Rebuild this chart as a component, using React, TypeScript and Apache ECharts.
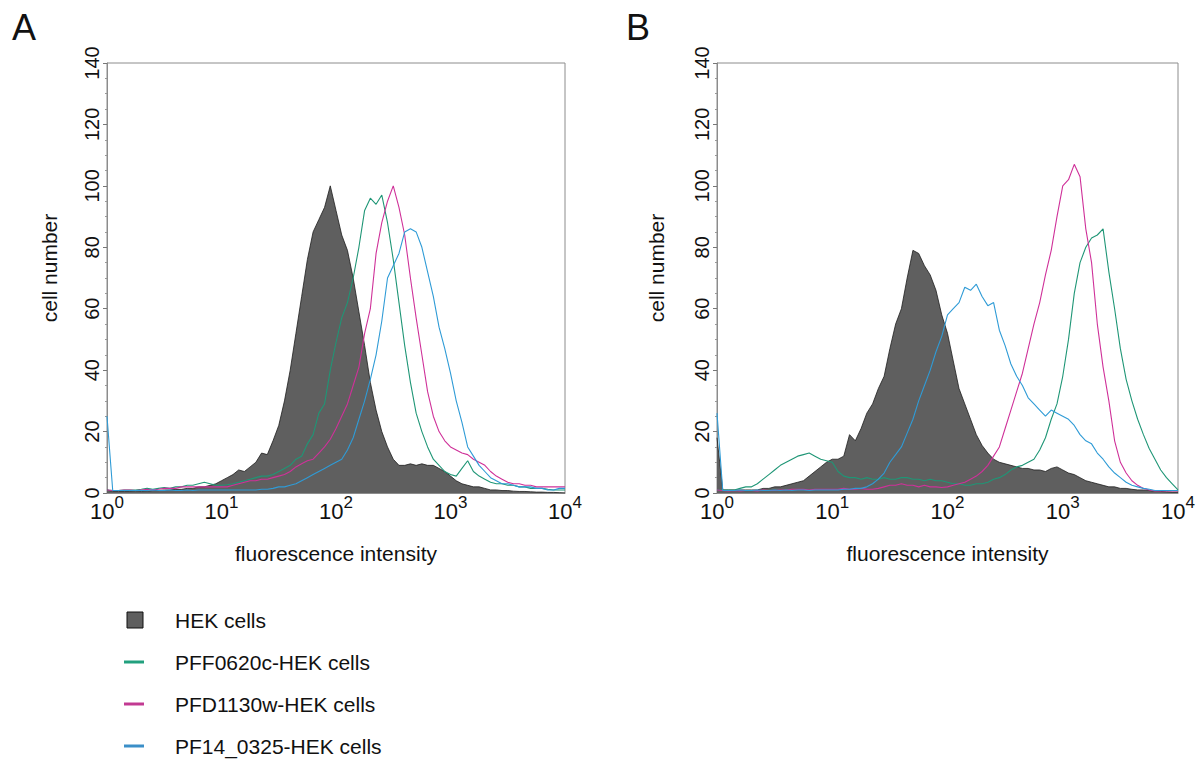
import React, { useEffect, useRef } from "react";
import * as echarts from "echarts";

const FONT = '"Liberation Sans", Arial, Helvetica, sans-serif';

// channel positions on the log10 fluorescence scale (0 .. 4 decades, 81 channels)
const CHANNELS = Array.from({ length: 81 }, (_, i) => i * 0.05);

const X_TICKS = [1, 10, 100, 1000, 10000];
const Y_TICKS = [0, 20, 40, 60, 80, 100, 120, 140];

const SERIES_NAMES = ["HEK cells", "PFF0620c-HEK cells", "PFD1130w-HEK cells", "PF14_0325-HEK cells"];
const COLORS = ["#5f5f5f", "#1f9676", "#cf3199", "#2f9bd6"];
const LEGEND_COLORS = ["#5f5f5f", "#22a07e", "#c23a92", "#3b8fc8"];

// Panel A
const hekA = [
  1, 0.5, 0.5, 0.5, 0.5, 0.6, 0.5, 0.6, 0.8, 0.8,
  1, 1, 1.2, 1.2, 1.5, 1.5, 2, 2, 2.5, 3,
  4, 5, 6, 7.5, 7, 8.5, 10, 13, 12.5, 17,
  22, 30, 40, 52, 64, 76, 85, 89, 93, 100,
  92, 84, 79, 70, 59, 48, 36, 27, 20, 15,
  11, 9, 9, 9.5, 9, 9.5, 9, 9, 8, 7,
  5.5, 4, 3, 2.5, 2, 2, 1.5, 1, 1, 0.8,
  0.8, 0.6, 0.5, 0.5, 0.4, 0.3, 0.3, 0.2, 0.2, 0.1,
  0,
];
const pffA = [
  1, 0.8, 0.8, 1, 1, 1, 1.2, 1.5, 1.2, 1.5,
  1.8, 1.5, 2, 2, 2.5, 2.5, 3, 3.5, 3, 2.5,
  2.5, 2.7, 3, 3.5, 4, 4.5, 5, 5.5, 5.5, 6,
  7, 8, 9, 11, 12, 16, 19, 26, 29, 40,
  49, 57, 62, 70, 80, 92, 96, 94, 97, 88,
  76, 62, 48, 36, 26, 20, 15, 11, 9, 7,
  6, 5.5, 8, 10.5, 7, 5.5, 4.5, 3.5, 3, 3,
  2.5, 2.5, 2, 2, 1.5, 1.5, 1.5, 1.2, 1, 1,
  1,
];
const pfdA = [
  1, 0.8, 0.8, 1, 1, 0.8, 1, 1.2, 1, 1.2,
  1.5, 1.5, 1.5, 2, 2, 2, 2, 2, 2, 2,
  2, 2, 2.5, 3, 3.5, 4, 4, 4.5, 4.5, 5,
  5.5, 6, 7, 8.5, 9.5, 10.5, 11, 13, 15, 17.5,
  21, 25, 29, 35, 41, 52, 60, 78, 88, 95,
  100, 93, 84, 70, 57, 45, 33, 25, 20, 17,
  15, 14, 13, 12.5, 11, 10, 9, 7, 5.5, 4.5,
  3.5, 3, 3, 2.5, 2.5, 2, 2, 2, 2, 2,
  2,
];
const pf14A = [
  25, 0.8, 0.8, 0.8, 0.8, 0.8, 0.8, 0.8, 1, 0.8,
  0.8, 1, 0.8, 0.8, 1, 0.8, 1, 1, 1, 1,
  1, 1, 1, 1, 1, 1, 1, 1.2, 1.2, 1.5,
  2, 2, 2.5, 3, 4, 5, 6, 7, 8, 9,
  10, 11, 14, 18, 24, 30, 37, 45, 56, 70,
  74, 78, 85, 86, 85, 80, 72, 64, 54, 47,
  39, 30, 23, 15, 12, 9, 7, 5, 4, 3,
  3, 2.5, 2, 2, 2, 1.5, 1.5, 1, 1, 1.5,
  1.5,
];

// Panel B
const hekB = [
  18, 1, 1, 1, 1, 1, 1, 1, 1.5, 1.5,
  2, 2, 2.5, 3, 3.5, 4, 5.5, 7, 8.5, 10,
  11, 11, 12, 19, 17, 21, 26, 29, 34, 38,
  47, 55, 60, 70, 79, 78, 74, 71, 66, 58,
  52, 43, 34, 29, 24, 19, 15.5, 13, 11, 10,
  9.5, 9, 8.5, 8, 8, 7.5, 7.5, 7, 8, 8.5,
  7.5, 6.5, 6, 5, 4, 3.5, 3, 2.5, 2, 2,
  1.5, 1.5, 1.2, 1, 1, 0.8, 0.6, 0.5, 0.4, 0.3,
  0.3,
];
const pffB = [
  1, 1, 1, 1, 1.5, 2, 2, 3, 4.5, 6,
  7.5, 9, 10, 11, 12, 12.5, 13, 12, 11, 10.5,
  10, 7, 5.5, 5, 5, 4.5, 5, 4.5, 4.5, 5,
  4.5, 4.5, 5, 5, 4.5, 4.5, 4, 4.5, 4, 4,
  3.5, 3, 3, 2.5, 2.5, 3, 3, 3.5, 4.5, 5,
  6, 7.5, 8.5, 9, 10, 11, 14, 18, 24, 29,
  38, 50, 65, 75, 80, 83, 84, 86, 72, 60,
  47, 37, 30, 24, 19, 14.5, 11, 7.5, 5, 3,
  1,
];
const pfdB = [
  1, 0.8, 0.7, 0.8, 0.7, 0.8, 0.8, 0.7, 1, 0.8,
  0.8, 1, 1, 1.2, 1.2, 1.2, 1, 1.2, 1.2, 1.2,
  1.2, 1.2, 1.5, 1.2, 1.2, 1.5, 1.2, 1.2, 1.5, 2,
  2.5, 2.5, 3, 2.5, 2.5, 2, 2.5, 2, 2, 1.8,
  2, 2.5, 3, 3.5, 4.5, 5.5, 7, 9, 12, 15,
  21, 27, 33, 39, 47, 55, 62, 71, 79, 90,
  100, 102, 107, 103, 86, 75, 55, 41, 30, 17,
  10, 6.5, 4, 2.5, 1.5, 1, 0.7, 0.7, 0.7, 0.7,
  0.7,
];
const pf14B = [
  26, 0.8, 0.8, 0.8, 1, 0.8, 0.8, 1, 0.8, 0.8,
  1, 0.8, 1, 0.8, 1, 1, 0.8, 1, 1, 1,
  1, 1, 1.2, 1.2, 1.5, 1.5, 2, 3, 4.5, 6.5,
  10, 12.5, 15, 19.5, 24, 30, 35, 40, 46, 51,
  58, 60, 62, 67, 66, 68, 64, 61, 62, 53,
  48, 42, 38, 35, 31, 29, 27, 25, 27, 26,
  25, 24, 22, 19, 17, 16, 13, 11, 8.5, 6.5,
  5, 3.5, 2.5, 2, 1.5, 1.2, 0.8, 0.8, 0.8, 0.8,
  0.8,
];

const PANELS = [
  { letter: "A", data: [hekA, pffA, pfdA, pf14A] },
  { letter: "B", data: [hekB, pffB, pfdB, pf14B] },
];

const toPairs = (vals: number[]) => vals.map((v, i) => [Math.pow(10, CHANNELS[i]), v]);

export default function App() {
  const ref = useRef<HTMLDivElement>(null);
  useEffect(() => {
    document.body.style.margin = "0";
    if (!ref.current) return;
    const chart = echarts.init(ref.current, null, { renderer: "svg" });

    const grids = [
      { left: 107, top: 63, width: 458, height: 430 },
      { left: 717, top: 63, width: 461, height: 430 },
    ];

    const xAxis = grids.map((_, gi) => ({
      type: "log",
      logBase: 10,
      gridIndex: gi,
      min: X_TICKS[0],
      max: X_TICKS[X_TICKS.length - 1],
      axisLine: { show: true, lineStyle: { color: "#8c8c8c", width: 1 } },
      axisTick: { show: false },
      splitLine: { show: false },
      axisLabel: {
        margin: 1,
        showMinLabel: true,
        showMaxLabel: true,
        formatter: (v: number) => `{b|10}{s|${Math.round(Math.log10(v))}}`,
        rich: {
          b: { fontSize: 22, fontFamily: FONT, color: "#111", lineHeight: 22 },
          s: { fontSize: 17, fontFamily: FONT, color: "#111", padding: [0, 0, 17, 0] },
        },
      },
      name: "fluorescence intensity",
      nameLocation: "middle",
      nameGap: 50,
      nameTextStyle: { fontSize: 21, fontFamily: FONT, color: "#111" },
    }));

    const yAxis = grids.map((_, gi) => ({
      type: "value",
      gridIndex: gi,
      min: Y_TICKS[0],
      max: Y_TICKS[Y_TICKS.length - 1],
      interval: 20,
      axisLine: { show: true, lineStyle: { color: "#8c8c8c", width: 1 } },
      axisTick: { show: true, length: 4, lineStyle: { color: "#777" } },
      minorTick: { show: true, splitNumber: 4, length: 2, lineStyle: { color: "#999" } },
      splitLine: { show: false },
      minorSplitLine: { show: false },
      axisLabel: { rotate: 90, fontSize: 20, fontFamily: FONT, color: "#111", margin: 5 },
    }));

    const series: any[] = [];
    PANELS.forEach((p, gi) => {
      p.data.forEach((vals, si) => {
        const isFill = si === 0;
        series.push({
          name: SERIES_NAMES[si],
          type: "line",
          xAxisIndex: gi,
          yAxisIndex: gi,
          data: toPairs(vals),
          symbol: "none",
          smooth: false,
          z: 2 + si,
          lineStyle: isFill
            ? { color: "#1e1e1e", width: 0.8 }
            : { color: COLORS[si], width: 1.1 },
          areaStyle: isFill ? { color: COLORS[0], opacity: 1 } : undefined,
        });
      });
    });

    const graphic: any[] = [];
    const letterX = [12, 626];
    PANELS.forEach((p, gi) => {
      graphic.push({
        type: "text",
        x: letterX[gi],
        y: 27,
        style: {
          text: p.letter,
          fontSize: 36,
          fontFamily: FONT,
          fill: "#111",
          textAlign: "left",
          textVerticalAlign: "middle",
          align: "left",
          verticalAlign: "middle",
        },
      });
      graphic.push({
        type: "text",
        x: gi === 0 ? 49 : 656,
        y: 268,
        rotation: Math.PI / 2,
        style: {
          text: "cell number",
          fontSize: 21,
          fontFamily: FONT,
          fill: "#111",
          textAlign: "center",
          textVerticalAlign: "middle",
          align: "center",
          verticalAlign: "middle",
        },
      });
    });

    const rowY = [620, 662, 704, 746];
    SERIES_NAMES.forEach((name, i) => {
      if (i === 0) {
        graphic.push({
          type: "rect",
          shape: { x: 127, y: rowY[i] - 8, width: 16, height: 16 },
          style: { fill: LEGEND_COLORS[0], stroke: "#111", lineWidth: 1 },
        });
      } else {
        graphic.push({
          type: "line",
          shape: { x1: 124, y1: rowY[i], x2: 144, y2: rowY[i] },
          style: { stroke: LEGEND_COLORS[i], lineWidth: 3 },
        });
      }
      graphic.push({
        type: "text",
        x: 175,
        y: rowY[i],
        style: {
          text: name,
          fontSize: 21,
          fontFamily: FONT,
          fill: "#111",
          textAlign: "left",
          textVerticalAlign: "middle",
          align: "left",
          verticalAlign: "middle",
        },
      });
    });

    chart.setOption({
      animation: false,
      backgroundColor: "#ffffff",
      grid: grids.map((g) => ({ ...g, show: true, borderColor: "#8c8c8c", borderWidth: 1, backgroundColor: "transparent" })),
      xAxis,
      yAxis,
      series,
      graphic,
    });

    return () => chart.dispose();
  }, []);

  return <div ref={ref} style={{ width: 1200, height: 773 }} />;
}
